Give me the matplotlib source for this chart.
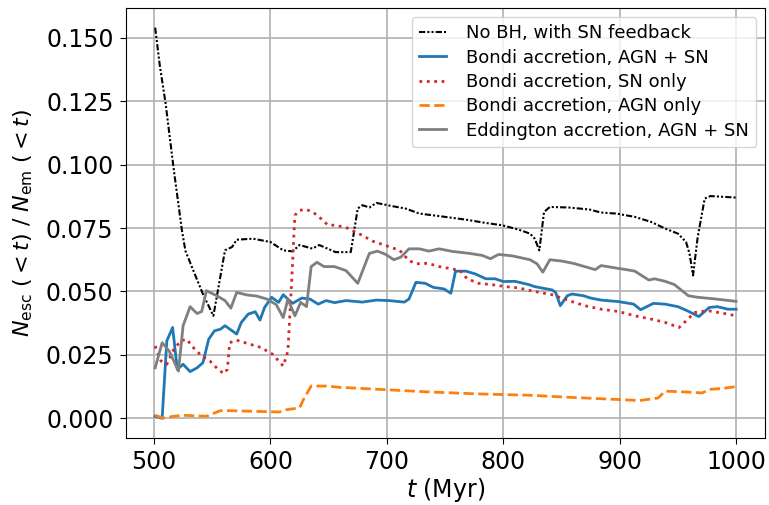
import matplotlib
matplotlib.use("Agg")
import matplotlib.pyplot as plt

# No BH, with SN feedback
t_nobh = [501, 505, 510, 517, 524, 527, 534, 542, 551, 561, 567, 571, 585, 600, 611, 619, 625, 636, 642,
          656, 669, 675, 679, 685, 691, 705, 716, 728, 750, 768, 785, 799, 813, 823, 827, 831, 835, 840,
          856, 874, 884, 897, 913, 927, 939, 950, 957, 960, 963, 967, 973, 978, 1000]
f_nobh = [.154, .139, .124, .098, .074, .066, .058, .049, .0404, .0662, .0675, .0704, .0708, .0695, .0662,
          .0658, .0683, .0669, .0683, .0655, .0655, .0827, .084, .0831, .0849, .0836, .0827, .0807, .0794,
          .0783, .077, .0761, .0744, .0728, .0708, .0662, .0813, .0833, .0831, .0823, .0811, .0807, .0794,
          .0774, .0748, .0728, .0695, .0649, .0563, .0714, .0866, .0876, .087]

# Bondi accretion, AGN + SN
t_bondi = [501, 507, 511, 516, 520, 525, 531, 537, 542, 547, 552, 557, 561, 571, 575, 581, 587, 591, 595,
           601, 607, 611, 619, 627, 634, 641, 648, 655, 665, 679, 691, 702, 715, 719, 725, 733, 740, 749,
           755, 759, 768, 776, 785, 793, 800, 810, 822, 827, 842, 845, 849, 855, 859, 869, 875, 884, 899,
           912, 918, 929, 939, 950, 958, 968, 977, 984, 993, 1000]
f_bondi = [.0008, 0, .0305, .0358, .0193, .0213, .0184, .0199, .0219, .0312, .0345, .0351, .0365, .0332,
           .0378, .0411, .042, .0387, .0437, .0477, .0457, .0487, .0453, .0474, .047, .045, .0464, .0456,
           .0464, .0458, .0466, .0464, .0458, .047, .0536, .0532, .0516, .051, .0493, .058, .058, .0569,
           .055, .055, .0539, .054, .0527, .0519, .0506, .0496, .0444, .0483, .049, .0483, .0474, .0466,
           .046, .045, .0428, .0453, .045, .044, .0424, .0401, .0437, .044, .043, .043]

# Bondi accretion, SN only
t_sn = [501, 506, 511, 517, 523, 528, 535, 541, 548, 555, 560, 563, 565, 571, 581, 592, 602, 611, 615,
        618, 621, 625, 631, 637, 644, 649, 657, 666, 676, 688, 699, 711, 719, 725, 735, 745, 756, 763,
        769, 779, 790, 802, 813, 827, 842, 850, 859, 870, 884, 899, 913, 927, 939, 951, 960, 964, 976,
        990, 1000]
f_sn = [.0285, .0226, .0213, .0272, .0305, .0312, .0272, .0246, .0226, .0193, .0176, .0193, .0298, .0308,
        .0294, .0279, .0252, .0206, .0265, .0516, .080, .082, .0823, .0811, .0785, .0763, .076, .075,
        .0728, .0698, .0681, .0662, .0622, .0609, .0611, .0598, .0589, .0582, .055, .0532, .0527, .0519,
        .0514, .05, .0487, .0474, .046, .0444, .043, .0421, .0404, .0391, .0378, .0358, .0397, .0417,
        .0424, .0413, .0404]

# Bondi accretion, AGN only
t_agn = [501, 508, 517, 525, 545, 557, 565, 608, 614, 625, 629, 635, 648, 660, 694, 736, 779, 822, 856,
         899, 917, 933, 939, 956, 971, 977, 989, 1000]
f_agn = [.0012, .0001, .0008, .0012, .0008, .003, .003, .0025, .0034, .0041, .008, .0127, .0127, .0122,
         .0114, .0104, .0096, .0091, .0083, .0074, .007, .008, .0107, .0104, .010, .0114, .0118, .0125]

# Eddington accretion, AGN + SN
t_edd = [501, 507, 513, 517, 521, 525, 531, 537, 541, 545, 554, 561, 566, 571, 580, 588, 597, 605, 611,
         615, 621, 626, 631, 635, 640, 646, 655, 665, 675, 685, 692, 699, 706, 712, 719, 728, 736, 745,
         756, 771, 782, 789, 796, 808, 823, 829, 834, 840, 850, 860, 870, 879, 884, 896, 907, 913, 925,
         930, 939, 947, 959, 967, 981, 1000]
f_edd = [.0199, .0298, .0265, .0226, .0186, .0365, .044, .0413, .0421, .0503, .0483, .0464, .0434, .0496,
         .0486, .0482, .047, .0448, .0397, .047, .0404, .0457, .044, .0598, .0615, .0598, .0598, .0582,
         .0532, .065, .0659, .0646, .0625, .0635, .0668, .0668, .0659, .0668, .0658, .065, .0642, .0629,
         .0646, .064, .0625, .0609, .0576, .0625, .062, .0611, .0598, .0586, .0602, .0593, .0585, .058,
         .0545, .055, .054, .0527, .0483, .0477, .0471, .0461]

fig, ax = plt.subplots(figsize=(7.69, 5.05), dpi=100)
fig.subplots_adjust(left=0.164, right=0.995, top=0.984, bottom=0.133)

ax.plot(t_nobh, f_nobh, color='black', lw=1.5, ls=(0, (3, 1, 1, 1, 1, 1)), label='No BH, with SN feedback')
ax.plot(t_bondi, f_bondi, color='#1f77b4', lw=2, label='Bondi accretion, AGN + SN')
ax.plot(t_sn, f_sn, color='#d62728', lw=2, ls=':', label='Bondi accretion, SN only')
ax.plot(t_agn, f_agn, color='#ff7f0e', lw=2, ls='--', label='Bondi accretion, AGN only')
ax.plot(t_edd, f_edd, color='#7f7f7f', lw=2, label='Eddington accretion, AGN + SN')

ax.grid(True, color='#b0b0b0', lw=1.2)
ax.set_xticks([500, 600, 700, 800, 900, 1000])
ax.set_yticks([0, .025, .05, .075, .1, .125, .15])
ax.tick_params(labelsize=17, length=4, pad=5)
ax.set_xlabel(r'$t$ (Myr)', fontsize=17, labelpad=1.5)
ax.set_ylabel(r'$N_{\rm esc}$ ($<t$) / $N_{\rm em}$ ($<t$)', fontsize=16, labelpad=8)
ax.legend(loc='upper right', fontsize=13, handlelength=1.5, handletextpad=1.1, labelspacing=0.35)

fig.savefig('out.png')
